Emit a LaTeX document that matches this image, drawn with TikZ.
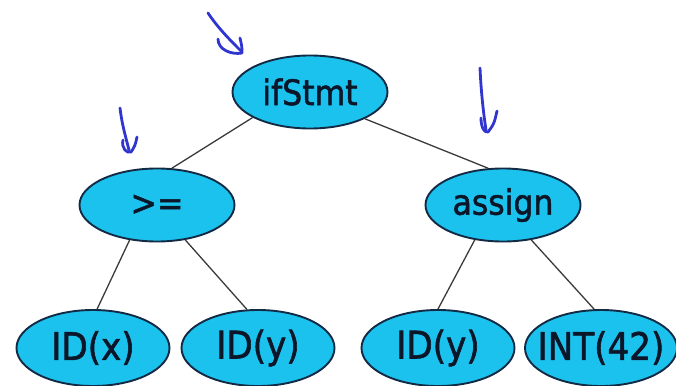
\documentclass[tikz,border=0pt]{standalone}
\usepackage{fontspec}
\setmainfont{DejaVu Sans}
\newfontfamily\upperfont{DejaVu Sans}[FakeStretch=0.9,FakeBold=1.5]
\newfontfamily\lowerfont{DejaVu Sans}[FakeStretch=0.9,FakeBold=1.5]
\usetikzlibrary{shapes.geometric}
\definecolor{nodefill}{HTML}{1CC2EE}
\definecolor{nodeborder}{HTML}{122A44}
\definecolor{nodetext}{HTML}{0B1628}
\definecolor{edgecol}{HTML}{3A3A3A}
\definecolor{penblue}{HTML}{3035D0}
\tikzset{
  treenode/.style={ellipse, draw=nodeborder, line width=1.9pt, fill=nodefill,
    text=nodetext, inner sep=-25pt},
  upper/.style={treenode, minimum width=155pt, minimum height=73pt,
    font=\upperfont\fontsize{35}{40}\selectfont},
  lower/.style={treenode, minimum width=153pt, minimum height=76pt,
    font=\lowerfont\fontsize{38}{44}\selectfont},
  edge/.style={draw=edgecol, line width=1.3pt},
  pen/.style={draw=penblue, line width=2.8pt, line cap=round, line join=round}
}
\begin{document}
\begin{tikzpicture}[x=1pt,y=-1pt]
\useasboundingbox (0,0) rectangle (676,385);
\node[upper] (if) at (310,92) {ifStmt};
\node[upper] (ge) at (157,205) {>=};
\node[upper] (as) at (503,205) {assign};
\node[lower] (idx) at (93,348) {ID(x)};
\node[lower] (idy) at (258,348) {ID(y)};
\node[lower] (idy2) at (438,348) {ID(y)};
\node[lower, minimum width=152pt] (int) at (601,348) {INT(42)};
\draw[edge] (if.204) -- (ge.68);
\draw[edge] (if.334) -- (as.112);
\draw[edge] (ge.232) -- (idx.84);
\draw[edge] (ge.309) -- (idy.106);
\draw[edge] (as.231) -- (idy2.90);
\draw[edge] (as.309) -- (int.100);
% hand-drawn pen arrows
\draw[pen] (208,13) .. controls (218,28) and (230,40) .. (241,51);
\draw[pen] (218,39) .. controls (218,50) and (232,55) .. (242,53) .. controls (242,47) .. (240,38);
\draw[pen] (120,108) .. controls (122,125) and (126,138) .. (129,150);
\draw[pen] (123,140) .. controls (121,148) and (127,154) .. (131,152) .. controls (135,146) .. (137,137);
\draw[pen] (480,68) .. controls (481,90) and (483,110) .. (486,130);
\draw[pen] (481,118) .. controls (481,127) and (484,133) .. (488,132) .. controls (494,124) .. (497,111);
\end{tikzpicture}
\end{document}
